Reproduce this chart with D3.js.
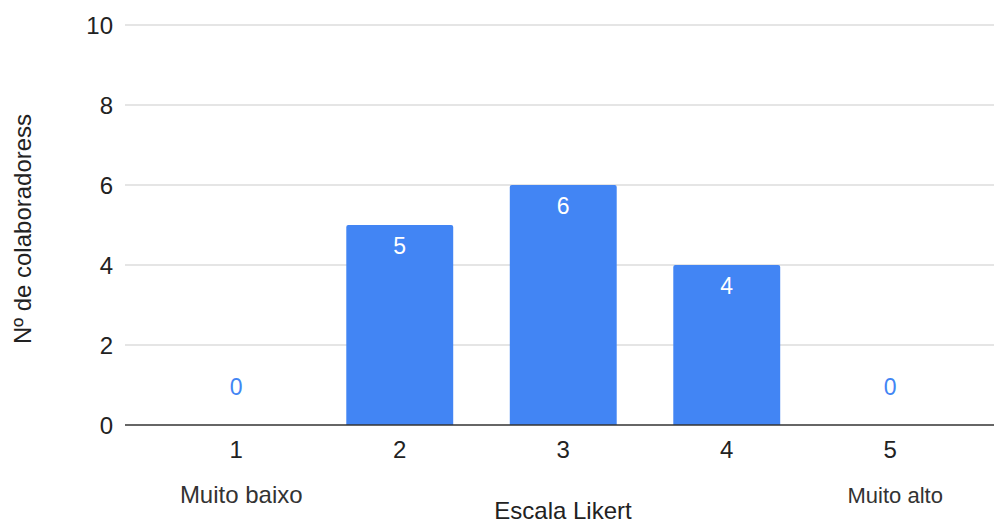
<!DOCTYPE html>
<meta charset="utf-8">
<script src="https://d3js.org/d3.v7.min.js"></script>
<style>
  body { margin: 0; background: #fff; }
  text { font-family: "Liberation Sans", Arial, sans-serif; }
</style>
<div id="chart"></div>
<script>
// data
var categories = ["1", "2", "3", "4", "5"];
var values = [0, 5, 6, 4, 0];
var yTicks = [0, 2, 4, 6, 8, 10];
var endLabels = [{cat: "1", text: "Muito baixo", size: 24}, {cat: "5", text: "Muito alto", size: 22}];

var width = 994, height = 523;

var svg = d3.select("#chart").append("svg")
  .attr("width", width)
  .attr("height", height);

var x = d3.scaleBand()
  .domain(categories)
  .range([154.5, 972])
  .paddingInner(0.346)
  .paddingOuter(0.173);

var y = d3.scaleLinear()
  .domain([0, 10])
  .range([425, 25]);

// gridlines
svg.selectAll(".grid")
  .data(yTicks.filter(function(d){ return d > 0 }))
  .enter().append("line")
  .attr("x1", 125).attr("x2", 994)
  .attr("y1", function(d){ return y(d) })
  .attr("y2", function(d){ return y(d) })
  .style("stroke", "#cccccc")
  .style("stroke-width", 1.2);

// y tick labels
svg.selectAll(".ytick")
  .data(yTicks)
  .enter().append("text")
  .attr("x", 113)
  .attr("y", function(d){ return y(d) + 8.5 })
  .attr("text-anchor", "end")
  .attr("font-size", "24px")
  .style("fill", "#222")
  .text(function(d){ return d });

// bars with slightly rounded top
svg.selectAll(".bar")
  .data(values)
  .enter().append("path")
  .attr("d", function(d, i){
    var x0 = x(categories[i]), w = x.bandwidth(), y0 = y(d), y1 = y(0), r = 2;
    if (d === 0) return "";
    return "M" + x0 + "," + y1 + "V" + (y0 + r) + "Q" + x0 + "," + y0 + " " + (x0 + r) + "," + y0 +
      "H" + (x0 + w - r) + "Q" + (x0 + w) + "," + y0 + " " + (x0 + w) + "," + (y0 + r) + "V" + y1 + "Z";
  })
  .style("fill", "#4285f4");

// value labels
svg.selectAll(".val")
  .data(values)
  .enter().append("text")
  .attr("x", function(d, i){ return x(categories[i]) + x.bandwidth() / 2 })
  .attr("y", function(d){ return d > 0 ? y(d) + 29 : y(0) - 30 })
  .attr("text-anchor", "middle")
  .attr("font-size", "23px")
  .style("fill", function(d){ return d > 0 ? "#ffffff" : "#4285f4" })
  .text(function(d){ return d });

// zero line
svg.append("line")
  .attr("x1", 125).attr("x2", 994)
  .attr("y1", y(0)).attr("y2", y(0))
  .style("stroke", "#333")
  .style("stroke-width", 1.6);

// x tick labels
svg.selectAll(".xtick")
  .data(categories)
  .enter().append("text")
  .attr("x", function(d){ return x(d) + x.bandwidth() / 2 })
  .attr("y", 458)
  .attr("text-anchor", "middle")
  .attr("font-size", "24px")
  .style("fill", "#222")
  .text(function(d){ return d });

// end labels
svg.selectAll(".endlab")
  .data(endLabels)
  .enter().append("text")
  .attr("x", function(d){ return x(d.cat) + x.bandwidth() / 2 + 5 })
  .attr("y", 503)
  .attr("text-anchor", "middle")
  .attr("font-size", function(d){ return d.size + "px" })
  .style("fill", "#333")
  .text(function(d){ return d.text });

// axis titles
svg.append("text")
  .attr("x", 563)
  .attr("y", 519)
  .attr("text-anchor", "middle")
  .attr("font-size", "24px")
  .style("fill", "#222")
  .text("Escala Likert");

svg.append("text")
  .attr("transform", "translate(31,229) rotate(-90)")
  .attr("text-anchor", "middle")
  .attr("font-size", "24px")
  .style("fill", "#222")
  .text("Nº de colaboradoress");
</script>
